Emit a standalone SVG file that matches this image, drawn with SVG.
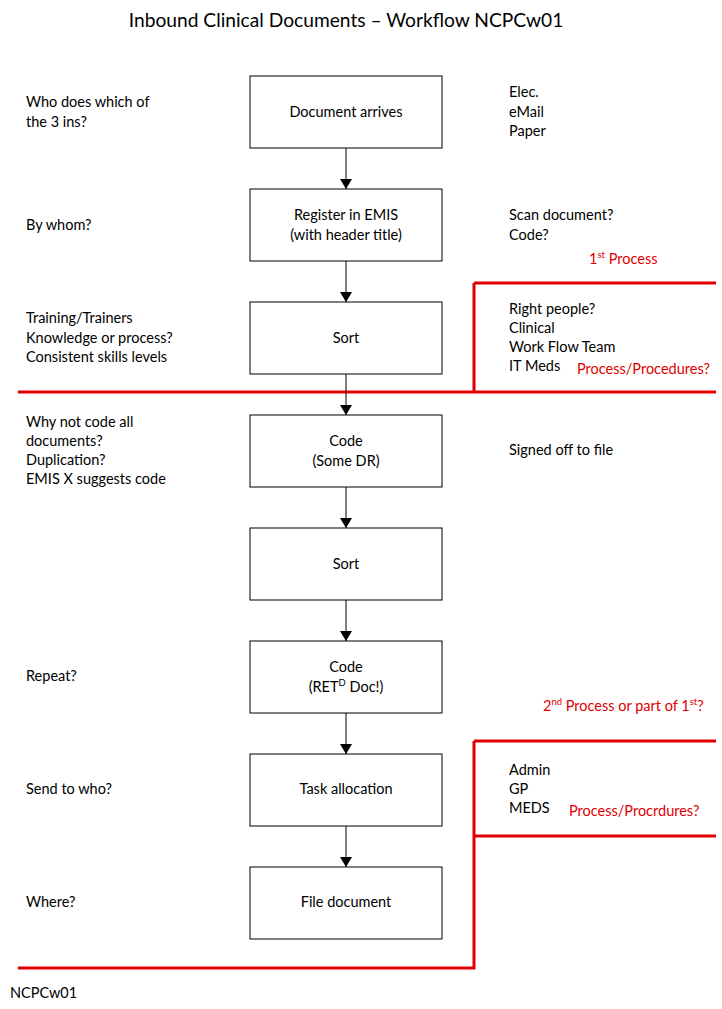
<svg xmlns="http://www.w3.org/2000/svg" width="722" height="1009" viewBox="0 0 722 1009">
<defs>
<marker id="ah" markerWidth="10" markerHeight="12" refX="10" refY="6" orient="auto" markerUnits="userSpaceOnUse">
<path d="M0,0 L10,6 L0,12 Z" fill="#000"/>
</marker>
<style>
text{font-family:Lato,"Open Sans","Liberation Sans",sans-serif;font-size:14.5px;fill:#000}
.t{font-size:19.2px}
.r{fill:#e00000}
.box{fill:#fff;stroke:#000;stroke-width:1}
.red{fill:none;stroke:#e00000;stroke-width:3}
.c{text-anchor:middle}
.sup{font-size:9.5px}
</style>
</defs>
<rect width="722" height="1009" fill="#fff"/>
<text class="t c" x="346" y="27">Inbound Clinical Documents – Workflow NCPCw01</text>
<g id="redlines">
<path class="red" d="M474,283 H716 M474,283 V392 M18,392 H716"/>
<path class="red" d="M474,741 H716 M474,741 V968 H18 M474,836 H716"/>
</g>
<g id="connectors" stroke="#000" stroke-width="1">
<line x1="346" y1="148" x2="346" y2="189" marker-end="url(#ah)"/>
<line x1="346" y1="261" x2="346" y2="302" marker-end="url(#ah)"/>
<line x1="346" y1="374" x2="346" y2="415" marker-end="url(#ah)"/>
<line x1="346" y1="487" x2="346" y2="528" marker-end="url(#ah)"/>
<line x1="346" y1="600" x2="346" y2="641" marker-end="url(#ah)"/>
<line x1="346" y1="713" x2="346" y2="754" marker-end="url(#ah)"/>
<line x1="346" y1="826" x2="346" y2="867" marker-end="url(#ah)"/>
</g>
<g id="n1"><rect class="box" x="250" y="76" width="192" height="72"/><text class="c" x="346" y="117">Document arrives</text></g>
<g id="n2"><rect class="box" x="250" y="189" width="192" height="72"/><text class="c" x="346" y="220">Register in EMIS</text><text class="c" x="346" y="240">(with header title)</text></g>
<g id="n3"><rect class="box" x="250" y="302" width="192" height="72"/><text class="c" x="346" y="343">Sort</text></g>
<g id="n4"><rect class="box" x="250" y="415" width="192" height="72"/><text class="c" x="346" y="446">Code</text><text class="c" x="346" y="466">(Some DR)</text></g>
<g id="n5"><rect class="box" x="250" y="528" width="192" height="72"/><text class="c" x="346" y="569">Sort</text></g>
<g id="n6"><rect class="box" x="250" y="641" width="192" height="72"/><text class="c" x="346" y="672">Code</text><text class="c" x="346" y="692">(RET<tspan class="sup" dy="-6">D</tspan><tspan dy="6"> Doc!)</tspan></text></g>
<g id="n7"><rect class="box" x="250" y="754" width="192" height="72"/><text class="c" x="346" y="794">Task allocation</text></g>
<g id="n8"><rect class="box" x="250" y="867" width="192" height="72"/><text class="c" x="346" y="907">File document</text></g>
<g id="left">
<text x="26" y="107">Who does which of</text>
<text x="26" y="127">the 3 ins?</text>
<text x="26" y="230">By whom?</text>
<text x="26" y="323">Training/Trainers</text>
<text x="26" y="343">Knowledge or process?</text>
<text x="26" y="362">Consistent skills levels</text>
<text x="26" y="427">Why not code all</text>
<text x="26" y="446">documents?</text>
<text x="26" y="465">Duplication?</text>
<text x="26" y="484">EMIS X suggests code</text>
<text x="26" y="681">Repeat?</text>
<text x="26" y="794">Send to who?</text>
<text x="26" y="907">Where?</text>
<text x="10" y="998">NCPCw01</text>
</g>
<g id="right">
<text x="509" y="97">Elec.</text>
<text x="509" y="117">eMail</text>
<text x="509" y="136">Paper</text>
<text x="509" y="220">Scan document?</text>
<text x="509" y="240">Code?</text>
<text class="r" x="589" y="264">1<tspan class="sup" dy="-6">st</tspan><tspan dy="6"> Process</tspan></text>
<text x="509" y="314">Right people?</text>
<text x="509" y="333">Clinical</text>
<text x="509" y="352">Work Flow Team</text>
<text x="509" y="371">IT Meds</text>
<text class="r" x="577" y="374">Process/Procedures?</text>
<text x="509" y="455">Signed off to file</text>
<text class="r" x="543" y="711">2<tspan class="sup" dy="-6">nd</tspan><tspan dy="6"> Process or part of 1</tspan><tspan class="sup" dy="-6">st</tspan><tspan dy="6">?</tspan></text>
<text x="509" y="775">Admin</text>
<text x="509" y="794">GP</text>
<text x="509" y="813">MEDS</text>
<text class="r" x="569" y="816">Process/Procrdures?</text>
</g>
</svg>
